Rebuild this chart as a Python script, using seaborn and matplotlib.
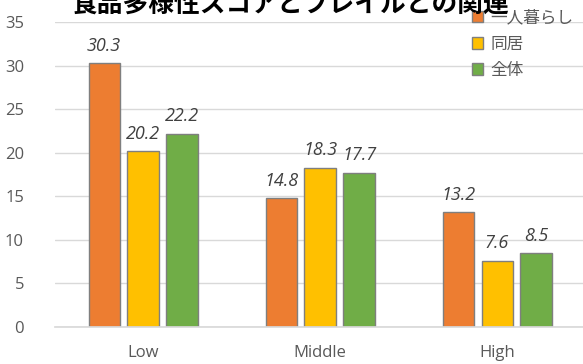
import matplotlib
matplotlib.use("Agg")
import matplotlib.pyplot as plt
import seaborn as sns
import pandas as pd

# Food diversity score group vs. frailty prevalence (%)
groups = ["Low", "Middle", "High"]
series = ["一人暮らし", "同居", "全体"]
living_alone = [30.3, 14.8, 13.2]
living_with = [20.2, 18.3, 7.6]
overall = [22.2, 17.7, 8.5]
palette = ["#ED7D31", "#FFC000", "#70AD47"]
yticks = [0, 5, 10, 15, 20, 25, 30, 35]
title = "食品多様性スコアとフレイルとの関連"

df = pd.DataFrame({
    "group": groups * 3,
    "series": [s for s in series for _ in groups],
    "value": living_alone + living_with + overall,
})

sns.set_theme(style="white")
plt.rcParams["font.family"] = ["Noto Sans CJK JP", "DejaVu Sans"]

fig = plt.figure(figsize=(5.83, 3.64), dpi=100)
ax = fig.add_axes([0.0935, 0.1016, 0.911, 0.838])

sns.barplot(data=df, x="group", y="value", hue="series", order=groups,
            hue_order=series, palette=palette, width=0.66, gap=0.2,
            edgecolor="#7f7f7f", linewidth=1.0, saturation=1, ax=ax)

for cont in ax.containers:
    for bar in cont:
        h = bar.get_height()
        ax.annotate(f"{h:.1f}", (bar.get_x() + bar.get_width() / 2, h),
                    xytext=(0, 6), textcoords="offset points",
                    ha="center", va="bottom", fontsize=13, style="italic",
                    family=["Open Sans", "DejaVu Sans"], color="#404040")

ax.set_xlim(-0.5, 2.5)
ax.set_ylim(0, 35)
ax.set_yticks(yticks)
ax.yaxis.grid(True, color="#d9d9d9", linewidth=1)
ax.set_axisbelow(True)
for side in ["left", "right", "top"]:
    ax.spines[side].set_visible(False)
ax.spines["bottom"].set_color("#d9d9d9")
ax.tick_params(axis="both", length=0, colors="#595959", labelsize=12)
ax.tick_params(axis="x", pad=13)
ax.tick_params(axis="y", pad=22)
for lbl in ax.get_xticklabels() + ax.get_yticklabels():
    lbl.set_family(["Open Sans", "DejaVu Sans"])
ax.set_xlabel("")
ax.set_ylabel("")

leg = ax.legend(loc="upper left", bbox_to_anchor=(0.773, 1.063), frameon=False,
                fontsize=12, handlelength=0.7, handleheight=0.7,
                handletextpad=0.4, labelspacing=0.55, borderaxespad=0)
for t in leg.get_texts():
    t.set_color("#595959")

fig.text(0.497, 0.988, title, ha="center", va="center", fontsize=18.5,
         fontweight="bold", color="#000000")

fig.savefig("out.png", dpi=100)
